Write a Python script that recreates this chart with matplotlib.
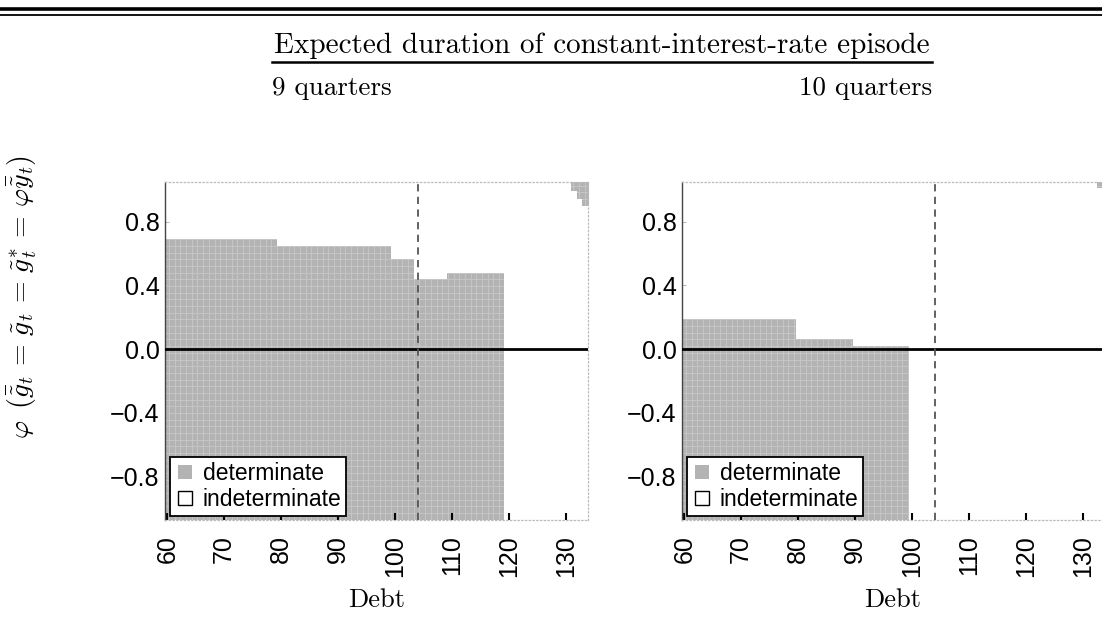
import numpy as np
import matplotlib
matplotlib.use("Agg")
import matplotlib.pyplot as plt
from matplotlib.collections import LineCollection
from matplotlib.lines import Line2D

plt.rcParams['mathtext.fontset'] = 'cm'
plt.rcParams['font.family'] = ['Liberation Sans', 'DejaVu Sans']

# Determinacy region (upper boundary of the determinate area)
# 9 quarters
debt_left = [59.6, 79.3, 99.3, 103.3, 109.1, 119.2]
phi_left = [0.69, 0.65, 0.566, 0.44, 0.478]
corner_debt_left = [131.0, 131.9, 132.8, 134.5]
corner_phi_left = [0.996, 0.943, 0.90]

# 10 quarters
debt_right = [59.6, 79.7, 89.6, 99.5]
phi_right = [0.19, 0.063, 0.02]
corner_debt_right = [132.5, 134.5]
corner_phi_right = [1.01]

debt_ss = 104  # dashed vertical line
xticks = [60, 70, 80, 90, 100, 110, 120, 130]
yticks = [-0.8, -0.4, 0.0, 0.4, 0.8]
ytick_labels = ['\u22120.8', '\u22120.4', '0.0', '0.4', '0.8']

XLIM = (59.6, 133.9)
YLIM = (-1.075, 1.05)
GRAY = '#b3b3b3'
CELL_LINE = '#c8c8c8'


def add_region(ax, xs, lo, hi):
    # step-shaped grey region with a light cell grid on top
    xs = np.array(xs)
    if np.ndim(lo) == 0:
        lo_vals = np.full(len(xs), lo)
    else:
        lo_vals = np.append(lo, lo[-1])
    if np.ndim(hi) == 0:
        hi_vals = np.full(len(xs), hi)
    else:
        hi_vals = np.append(hi, hi[-1])
    coll = ax.fill_between(xs, lo_vals, hi_vals, step='post', color=GRAY, lw=0, zorder=1)
    path = coll.get_paths()[0]
    segs = []
    for gx in np.arange(59.3, 135, 1.0):
        segs.append([(gx, -1.2), (gx, 1.2)])
    for gy in np.arange(0.69 - 0.042 * 60, 1.2, 0.042):
        segs.append([(55, gy), (140, gy)])
    grid = LineCollection(segs, colors=CELL_LINE, linewidths=0.6, zorder=1.5)
    ax.add_collection(grid)
    grid.set_clip_path(path, ax.transData)


def style_axes(ax):
    ax.set_xlim(*XLIM)
    ax.set_ylim(*YLIM)
    ax.set_xticks(xticks)
    ax.set_xticklabels([str(t) for t in xticks], rotation=90, fontsize=18)
    ax.set_yticks(yticks)
    ax.set_yticklabels(ytick_labels, fontsize=18)
    ax.tick_params(axis='x', direction='in', length=5, width=1.5, color='black', pad=11)
    ax.tick_params(axis='y', direction='in', length=3, width=0.8, color='#bbbbbb', pad=4)
    ax.spines['left'].set_color('#444444')
    ax.spines['left'].set_linewidth(1.0)
    for s in ['top', 'right', 'bottom']:
        ax.spines[s].set_color('#bbbbbb')
        ax.spines[s].set_linestyle((0, (1, 2)))
        ax.spines[s].set_linewidth(0.9)
    ax.axhline(0, color='black', lw=2, zorder=3)
    ax.axvline(debt_ss, color='#555555', lw=1.3, dashes=(4, 3), zorder=3)
    handles = [
        Line2D([], [], ls='none', marker='s', markersize=10.5, markerfacecolor=GRAY,
               markeredgecolor=GRAY, markeredgewidth=0),
        Line2D([], [], ls='none', marker='s', markersize=9.5, markerfacecolor='white',
               markeredgecolor='black', markeredgewidth=1.0),
    ]
    leg = ax.legend(handles, ['determinate', 'indeterminate'], loc='lower left',
                    bbox_to_anchor=(0.013, 0.013), borderaxespad=0, fontsize=16.5,
                    fancybox=False, framealpha=1, edgecolor='black',
                    handlelength=0.9, handletextpad=0.3, borderpad=0.2,
                    labelspacing=0.15)
    leg.get_frame().set_linewidth(1.3)
    leg.set_zorder(5)


fig = plt.figure(figsize=(11.02, 6.30), dpi=100)
ax1 = fig.add_axes([165 / 1102, 110 / 630, 423 / 1102, 338 / 630])
ax2 = fig.add_axes([682 / 1102, 110 / 630, 423 / 1102, 338 / 630])

add_region(ax1, debt_left, YLIM[0], phi_left)
add_region(ax1, corner_debt_left, corner_phi_left, YLIM[1])
add_region(ax2, debt_right, YLIM[0], phi_right)
add_region(ax2, corner_debt_right, corner_phi_right, YLIM[1])

for ax in (ax1, ax2):
    style_axes(ax)

serif = 'cmr10'
fig.text(377 / 1102, 1 - 600 / 630, 'Debt', family=serif, fontsize=19, ha='center', va='center')
fig.text(893 / 1102, 1 - 600 / 630, 'Debt', family=serif, fontsize=19, ha='center', va='center')

fig.text(602 / 1102, 1 - 46 / 630, 'Expected duration of constant-interest-rate episode',
         family=serif, fontsize=21, ha='center', va='center')
fig.text(272 / 1102, 1 - 88 / 630, '9 quarters', family=serif, fontsize=19.5, ha='left', va='center')
fig.text(932 / 1102, 1 - 88 / 630, '10 quarters', family=serif, fontsize=19.5, ha='right', va='center')

fig.text(22 / 1102, 1 - 297 / 630,
         r'$\varphi\ \,(\bar{\tilde{g}}_t\,=\,\tilde{g}_t\,=\,\tilde{g}^{*}_t\,=\,\varphi\bar{\tilde{y}}_t)$',
         rotation=90, fontsize=20, ha='center', va='center')

# header rules
fig.add_artist(Line2D([272 / 1102, 932 / 1102], [1 - 62 / 630, 1 - 62 / 630],
                      color='black', lw=1.8, transform=fig.transFigure))
fig.add_artist(Line2D([0, 1], [1 - 9 / 630, 1 - 9 / 630], color='black', lw=2.6,
                      transform=fig.transFigure))
fig.add_artist(Line2D([0, 1], [1 - 14.5 / 630, 1 - 14.5 / 630], color='black', lw=1.3,
                      transform=fig.transFigure))

fig.savefig('out.png', dpi=100)
